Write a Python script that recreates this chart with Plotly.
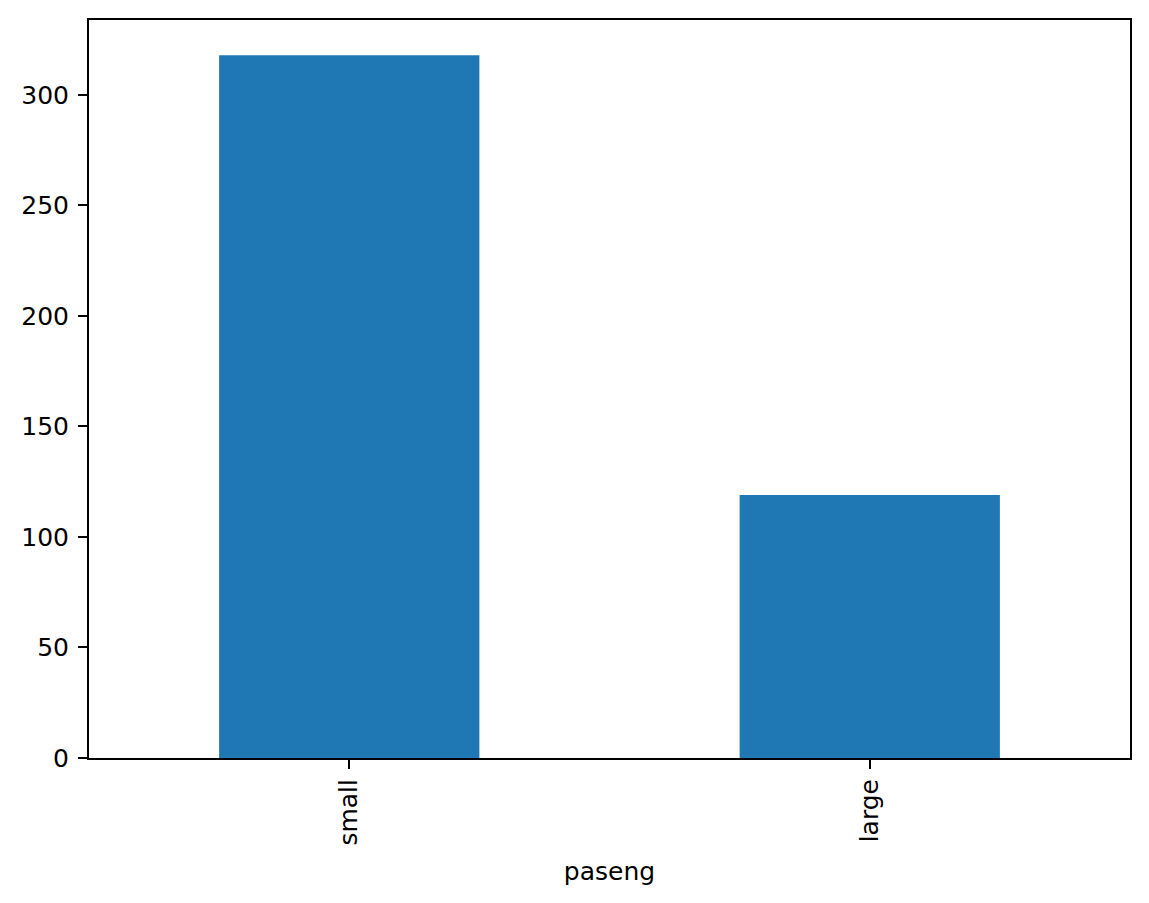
import plotly.graph_objects as go

# bar counts per category
categories = ["small", "large"]
counts = [318, 119]
x_title = "paseng"

font = dict(family="DejaVu Sans", size=25, color="black")

fig = go.Figure()
fig.add_trace(go.Bar(x=categories,
                     y=counts,
                     width=0.5,
                     marker=dict(color="#1f77b4", line=dict(width=0))))

# page body has an 8px margin, so the margins are shifted to compensate
fig.update_layout(
    width=1149, height=903,
    margin=dict(l=81, r=27, t=10, b=153),
    paper_bgcolor="white", plot_bgcolor="white",
    font=font,
    showlegend=False,
)
fig.update_xaxes(
    range=[-0.5, 1.5],
    tickangle=-90,
    ticks="outside", ticklen=9, tickwidth=2, tickcolor="black",
    showline=True, linecolor="black", linewidth=2, mirror=True,
    showgrid=False, zeroline=False,
    title=dict(text=x_title, font=font, standoff=18),
)
fig.update_yaxes(
    range=[0, max(counts) * 1.05],
    tickvals=[0, 50, 100, 150, 200, 250, 300],
    ticks="outside", ticklen=9, tickwidth=2, tickcolor="black",
    ticklabelstandoff=4,
    showline=True, linecolor="black", linewidth=2, mirror=True,
    showgrid=False, zeroline=False,
)

fig.write_html("out.html")
